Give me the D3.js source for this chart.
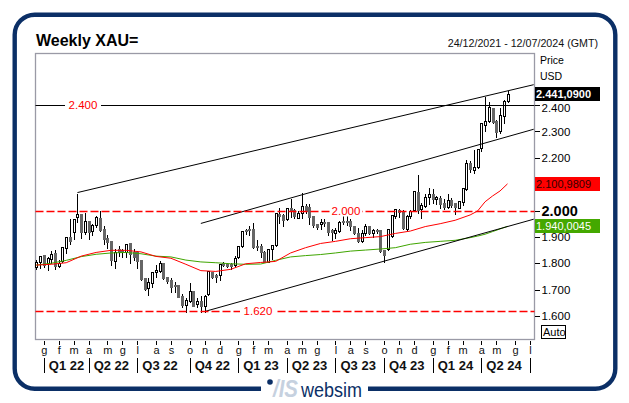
<!DOCTYPE html>
<html>
<head>
<meta charset="utf-8">
<script src="https://cdn.jsdelivr.net/npm/d3@7"></script>
<style>
html, body { margin: 0; padding: 0; background: #fff; }
svg { display: block; font-family: "Liberation Sans", Arial, sans-serif; }
</style>
</head>
<body>
<script>
// weekly candles, values
var opens = [1787,1806,1830,1800,1815,1838,1790,1807,1859,1901,1920,1977,1987,1920,1960,1924,1945,1972,1929,1896,
	1884,1810,1853,1850,1844,1877,1844,1844,1812,1745,1707,1726,1766,1771,1802,1748,1736,1716,1717,1676,
	1643,1658,1695,1644,1657,1638,1682,1767,1755,1754,1800,1798,1796,1793,1822,1865,1926,1929,1929,1864,
	1865,1844,1806,1855,1868,1987,1982,1968,2011,2002,1973,1989,2017,2015,1979,1949,1949,1958,1958,1926,
	1916,1924,1961,1961,1960,1941,1916,1886,1913,1941,1916,1927,1926,1850,1853,1902,1978,2002,1995,1930,
	1979,2002,2069,2004,2017,2052,2062,2042,2046,2030,2014,2040,2027,2011,2033,2080,2179,2153,2164,2238,
	2323,2341,2387,2339,2303,2360,2415];
var highs = [1815,1831,1831,1827,1850,1853,1815,1865,1903,1970,1973,2068,1989,1996,1960,1951,1983,2002,1945,1911,
	1884,1857,1869,1856,1875,1878,1856,1850,1812,1749,1749,1768,1796,1812,1806,1752,1747,1733,1717,1688,
	1673,1728,1696,1673,1680,1682,1774,1771,1762,1800,1810,1806,1806,1831,1869,1922,1932,1945,1958,1891,
	1878,1850,1857,1869,1992,2015,1989,2015,2046,2008,2002,2071,2027,2027,1983,1954,1973,1970,1958,1932,
	1936,1964,1987,1983,1970,1941,1939,1929,1951,1945,1932,1932,1929,1854,1932,1983,2008,2009,2004,1985,
	2005,2077,2137,2033,2065,2088,2084,2059,2059,2046,2065,2050,2033,2037,2088,2194,2191,2232,2236,2333,
	2434,2417,2387,2346,2394,2421,2457];
var lows = [1779,1781,1787,1774,1800,1777,1787,1806,1840,1873,1891,1958,1894,1911,1891,1907,1939,1924,1873,1857,
	1793,1783,1827,1822,1822,1802,1812,1783,1736,1699,1678,1711,1749,1768,1739,1726,1692,1692,1671,1635,
	1616,1654,1638,1633,1616,1616,1680,1745,1728,1736,1790,1784,1778,1787,1819,1863,1911,1907,1857,1850,
	1822,1803,1803,1815,1865,1951,1941,1964,1977,1970,1970,1970,1989,1949,1939,1929,1930,1941,1907,1888,
	1894,1920,1949,1945,1926,1910,1882,1882,1907,1911,1898,1913,1844,1806,1850,1901,1970,1977,1930,1925,
	1970,1998,1992,1970,2014,2025,2027,2025,2008,2006,2008,2012,1985,2008,2021,2078,2147,2141,2160,2225,
	2303,2335,2333,2280,2295,2330,2413];
var closes = [1806,1827,1793,1821,1835,1790,1802,1862,1901,1883,1968,1985,1920,1960,1920,1945,1974,1926,1892,1881,
	1812,1844,1843,1843,1873,1835,1822,1810,1741,1702,1728,1767,1774,1800,1744,1733,1711,1712,1673,1642,
	1661,1693,1639,1656,1638,1677,1771,1748,1749,1797,1795,1790,1790,1821,1865,1922,1922,1925,1860,1860,
	1844,1806,1854,1868,1989,1979,1964,2008,2002,1979,1989,2017,1998,1977,1945,1936,1958,1954,1920,1920,
	1926,1958,1958,1959,1941,1913,1884,1913,1941,1916,1926,1924,1848,1831,1931,1983,2005,1993,1932,1979,
	2000,2074,2002,2021,2052,2062,2042,2052,2025,2012,2040,2021,2012,2037,2084,2179,2156,2164,2232,2330,
	2341,2391,2337,2299,2362,2415,2442];

// moving averages, sampled every few weeks
var maWeeks = [0,4,8,12,16,20,24,28,32,36,40,44,48,52,56,60,64,68,72,76,80,84,88,92,96,100,104,108,112,116,118,120,122,124,126];
var maRed = [1793,1796,1802,1827,1841,1849,1849,1843,1826,1819,1796,1772,1769,1777,1798,1803,1807,1839,1859,1875,1883,1893,1897,1901,1913,1922,1939,1950,1963,1983,1998,2033,2055,2074,2101];
var maGreen = [1793,1800,1811,1825,1834,1839,1841,1836,1827,1824,1812,1805,1802,1798,1796,1797,1811,1824,1829,1833,1839,1846,1850,1854,1859,1872,1879,1883,1887,1897,1903,1910,1920,1930,1940];

// trend lines [week, price]
var channelTop = [[11, 2068], [133, 2477]];
var channelMid = [[44, 1951], [133, 2308]];
var channelLow = [[45, 1617], [133, 1967]];

var priceTicks = [1600,1700,1800,1900,2000,2200,2300,2400];
var monthWeeks = [2,6,10,14,19,23,27,32,36,41,45,49,54,58,62,67,71,75,80,84,88,93,97,101,106,110,114,119,123,128,132];
var monthLabels = ['g','f','m','a','m','g','l','a','s','o','n','d','g','f','m','a','m','g','l','a','s','o','n','d','g','f','m','a','m','g','l'];
var quarterWeeks = [2,14,27,41,54,67,80,93,106,119,132];
var quarterLabels = ['Q1 22','Q2 22','Q3 22','Q4 22','Q1 23','Q2 23','Q3 23','Q4 23','Q1 24','Q2 24',''];

var levels = [
	{price: 2400, label: '2.400', at: 83, gap: 18, color: '#000000', dash: null},
	{price: 2000, label: '2.000', at: 346, gap: 16, color: '#ff0000', dash: '8,3'},
	{price: 1620, label: '1.620', at: 258, gap: 18, color: '#ff0000', dash: '8,3'}
];

var width = 629, height = 403;
var plotLeft = 35.5, plotRight = 534.5, plotTop = 53.5, plotBottom = 339.5;
var navy = '#0b2f66';

var svg = d3.select('body').append('svg').attr('width', width).attr('height', height);

var x = d3.scaleLinear().domain([0, 126]).range([36.3, 507.5]);
var y = d3.scaleLinear().domain([1600, 2400]).range([316, 105]);
var xPix = function (w) { return Math.round(x(w)) + 0.5; };
var yPix = function (v) { return Math.round(y(v)) + 0.5; };

// outer frame, broken by the logo at the bottom
svg.append('rect').attr('x', 14.7).attr('y', 14.7).attr('width', 600.6).attr('height', 374)
	.attr('rx', 20).attr('fill', 'none').attr('stroke', navy).attr('stroke-width', 4.4);
svg.append('rect').attr('x', 261).attr('y', 380).attr('width', 107).attr('height', 14).attr('fill', '#fff');

// title
svg.append('text').attr('x', 36).attr('y', 46).attr('font-size', 16).attr('font-weight', 'bold').text('Weekly XAU=');
svg.append('text').attr('x', 598).attr('y', 47).attr('text-anchor', 'end').attr('font-size', 10.7).attr('fill', '#111').text('24/12/2021 - 12/07/2024 (GMT)');

// plot box
svg.append('rect').attr('x', plotLeft).attr('y', plotTop).attr('width', plotRight - plotLeft).attr('height', plotBottom - plotTop)
	.attr('fill', 'none').attr('stroke', '#9a9aa6').attr('stroke-width', 1.3);

// horizontal levels
var lev = svg.append('g').attr('class', 'levels');
levels.forEach(function (d) {
	lev.append('line').attr('x1', plotLeft).attr('x2', plotRight).attr('y1', yPix(d.price)).attr('y2', yPix(d.price))
		.attr('stroke', d.color).attr('stroke-width', d.dash ? 1.3 : 1).attr('stroke-dasharray', d.dash);
});

// candles
var candles = svg.append('g').attr('class', 'candles').attr('shape-rendering', 'crispEdges');
var item = candles.selectAll('g').data(opens).enter().append('g');
item.append('line')
	.attr('x1', function (d, i) { return xPix(i); })
	.attr('x2', function (d, i) { return xPix(i); })
	.attr('y1', function (d, i) { return yPix(highs[i]); })
	.attr('y2', function (d, i) { return yPix(lows[i]); })
	.attr('stroke', '#000');
item.append('rect')
	.attr('x', function (d, i) { return xPix(i) - 1; })
	.attr('width', 2)
	.attr('y', function (d, i) { return yPix(Math.max(opens[i], closes[i])); })
	.attr('height', function (d, i) { return Math.max(1, Math.abs(yPix(opens[i]) - yPix(closes[i]))); })
	.attr('fill', function (d, i) { return closes[i] >= opens[i] ? '#fff' : '#666'; })
	.attr('stroke', function (d, i) { return closes[i] >= opens[i] ? '#000' : '#666'; });

// moving averages
var maLine = d3.line()
	.x(function (d, i) { return x(maWeeks[i]); })
	.y(function (d) { return y(d); });
svg.append('path').attr('d', maLine(maGreen)).attr('fill', 'none').attr('stroke', '#3fa500').attr('stroke-width', 1);
svg.append('path').attr('d', maLine(maRed)).attr('fill', 'none').attr('stroke', '#f00').attr('stroke-width', 1);

// channel
var trend = d3.line().x(function (d) { return x(d[0]); }).y(function (d) { return y(d[1]); });
[channelTop, channelMid, channelLow].forEach(function (d) {
	svg.append('path').attr('d', trend(d)).attr('fill', 'none').attr('stroke', '#000').attr('stroke-width', 1);
});

// level labels sit on a white patch over the lines
levels.forEach(function (d) {
	lev.raise();
	lev.append('rect').attr('x', d.at - d.gap).attr('y', y(d.price) - 6).attr('width', d.gap * 2).attr('height', 12).attr('fill', '#fff');
	lev.append('text').attr('x', d.at).attr('y', y(d.price) + 4).attr('text-anchor', 'middle').attr('font-size', 11.5).attr('fill', '#f00').text(d.label);
});

// price axis
var yAxis = d3.axisRight(y).tickValues(priceTicks).tickSize(5).tickPadding(2)
	.tickFormat(function (d) { return d3.format('.3f')(d / 1000); });
var yg = svg.append('g').attr('transform', 'translate(' + plotRight + ',0)').call(yAxis);
yg.select('.domain').remove();
yg.selectAll('line').attr('stroke', '#000').attr('shape-rendering', 'crispEdges');
yg.selectAll('text').attr('font-family', '"Liberation Sans", Arial, sans-serif')
	.attr('font-size', function (d) { return d === 2000 ? 14.5 : 11.5; })
	.attr('font-weight', function (d) { return d === 2000 ? 'bold' : 'normal'; })
	.attr('fill', '#000');
yg.selectAll('.tick').filter(function (d) { return d === 2400; }).select('text').attr('dy', '0.32em').attr('y', 3);

svg.append('text').attr('x', 540).attr('y', 64).attr('font-size', 10.5).text('Price');
svg.append('text').attr('x', 540).attr('y', 80).attr('font-size', 10.5).text('USD');

// last value boxes
var boxes = [
	{v: closes[closes.length - 1], label: '2.441,0900', bg: '#000', fg: '#fff', bold: true},
	{v: maRed[maRed.length - 1], label: '2.100,9809', bg: '#f00', fg: '#300', bold: false},
	{v: maGreen[maGreen.length - 1], label: '1.940,0045', bg: '#44a800', fg: '#fff', bold: false}
];
boxes.forEach(function (d) {
	svg.append('rect').attr('x', 535).attr('y', Math.round(y(d.v)) - 7).attr('width', 65).attr('height', 14).attr('fill', d.bg);
	svg.append('text').attr('x', 536).attr('y', Math.round(y(d.v)) + 4).attr('font-size', 11)
		.attr('font-weight', d.bold ? 'bold' : 'normal').attr('fill', d.fg).text(d.label);
});

// auto button
svg.append('rect').attr('x', 541.5).attr('y', 325.5).attr('width', 24).attr('height', 13).attr('fill', '#fff').attr('stroke', '#000');
svg.append('text').attr('x', 543).attr('y', 336).attr('font-size', 11).text('Auto');

// month axis
var xAxis = d3.axisBottom(x).tickValues(monthWeeks).tickSize(4).tickPadding(2)
	.tickFormat(function (d, i) { return monthLabels[i]; });
var xg = svg.append('g').attr('transform', 'translate(0,' + (plotBottom + 1) + ')').call(xAxis);
xg.select('.domain').remove();
xg.selectAll('line').attr('stroke', '#000').attr('shape-rendering', 'crispEdges');
xg.selectAll('text').attr('font-family', '"Liberation Sans", Arial, sans-serif').attr('font-size', 11).attr('fill', '#111');

// quarter row
var qAxis = d3.axisBottom(x).tickValues(quarterWeeks).tickSize(15).tickPadding(0).tickFormat('');
var qg = svg.append('g').attr('transform', 'translate(0,358)').call(qAxis);
qg.select('.domain').remove();
qg.selectAll('line').attr('stroke', '#000').attr('shape-rendering', 'crispEdges');
svg.append('g').selectAll('text').data(quarterLabels).enter().append('text')
	.attr('x', function (d, i) { return x(quarterWeeks[i]) + 5; })
	.attr('y', 370).attr('font-size', 13).attr('font-weight', 'bold').attr('fill', '#111')
	.text(function (d) { return d; });

// logo
svg.append('circle').attr('cx', 270).attr('cy', 382).attr('r', 2.8).attr('fill', navy);
svg.append('text').attr('x', 273).attr('y', 397).attr('font-size', 23).attr('font-weight', 'bold').attr('font-style', 'italic')
	.attr('textLength', 25).attr('lengthAdjust', 'spacingAndGlyphs').attr('fill', '#c6d1df').text('/IS');
svg.append('text').attr('x', 301).attr('y', 397).attr('font-size', 20).attr('textLength', 61).attr('lengthAdjust', 'spacingAndGlyphs').attr('fill', navy).text('websim');
</script>
</body>
</html>
